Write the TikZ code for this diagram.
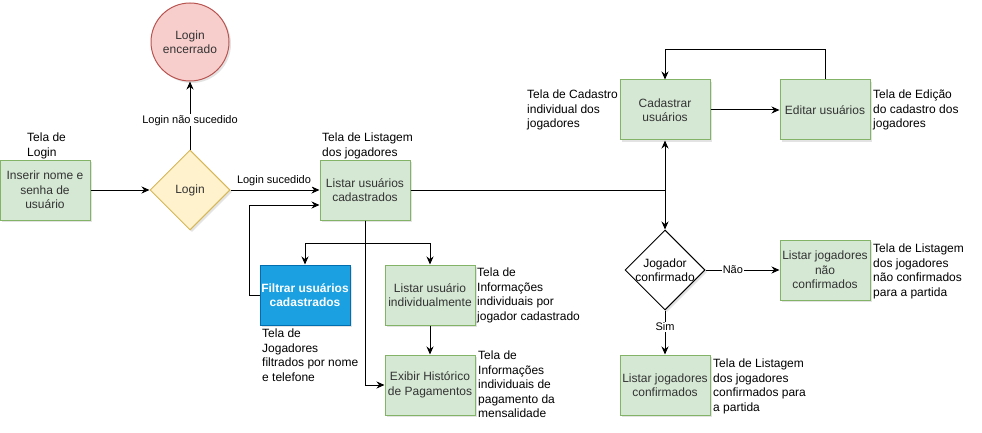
\documentclass[tikz,border=0pt]{standalone}
\usepackage{fontspec}
\setmainfont{Liberation Sans}
\usetikzlibrary{arrows.meta,shapes.geometric,shadows,calc}
\definecolor{gfill}{HTML}{D5E8D4}
\definecolor{gstroke}{HTML}{82B366}
\definecolor{yfill}{HTML}{FFF2CC}
\definecolor{ystroke}{HTML}{D6B656}
\definecolor{rfill}{HTML}{F8CECC}
\definecolor{rstroke}{HTML}{B85450}
\definecolor{bfill}{HTML}{1BA1E2}
\definecolor{bstroke}{HTML}{006EAF}
\definecolor{boxtext}{HTML}{333333}
\begin{document}
\begin{tikzpicture}[x=1pt,y=-1pt,
  shad/.style={drop shadow={opacity=0.22,shadow xshift=2pt,shadow yshift=-2pt}},
  box/.style={draw=gstroke, fill=gfill, text=boxtext, minimum width=90pt, minimum height=60pt, inner sep=0pt, align=center, font=\fontsize{12}{14.4}\selectfont, line width=1pt, shad},
  bluebox/.style={box, draw=bstroke, fill=bfill, text=white, font=\fontsize{12}{14.4}\selectfont\bfseries},
  dia/.style={diamond, aspect=1, minimum width=80pt, minimum height=80pt, inner sep=0pt, line width=1pt, shad},
  dtext/.style={align=center, inner sep=0pt, font=\fontsize{12}{14.4}\selectfont},
  note/.style={anchor=north west, inner sep=0pt, align=left, font=\fontsize{12}{14.4}\selectfont},
  elabel/.style={fill=white, inner sep=1pt, font=\fontsize{11}{13}\selectfont},
  arr/.style={-{Stealth[length=8pt,width=7pt]}, line width=1pt}]
\useasboundingbox (0,0) rectangle (982,433);

% nodes
\node[box] (inserir) at (45,190) {Inserir nome e\\senha de\\usuário};
\node[dia, draw=ystroke, fill=yfill, label={[dtext, text=boxtext]center:Login}] (login) at (190,190) {};
\node[circle, draw=rstroke, fill=rfill, text=boxtext, minimum size=78pt, inner sep=0pt, line width=1pt, align=center, font=\fontsize{12}{14.4}\selectfont, shad] (encerrado) at (190,42) {Login\\encerrado};
\node[box] (listar) at (365,190) {Listar usuários\\cadastrados};
\node[bluebox] (filtrar) at (305,295) {Filtrar usuários\\cadastrados};
\node[box] (individual) at (430,295) {Listar usuário\\individualmente};
\node[box] (historico) at (430,385) {Exibir Histórico\\de Pagamentos};
\node[box] (cadastrar) at (665,110) {Cadastrar\\usuários};
\node[box] (editar) at (825,110) {Editar usuários};
\node[dia, draw=black, fill=white, label={[dtext]center:Jogador\\confirmado}] (jogador) at (665,270) {};
\node[box] (naoconf) at (825,270) {Listar jogadores\\não\\confirmados};
\node[box] (conf) at (665,385) {Listar jogadores\\confirmados};

% notes
\node[note] (n1) at (27,133) {Tela de\\Login};
\node[note] (n2) at (322,133) {Tela de Listagem\\dos jogadores};
\node[note] (n3) at (262,329) {Tela de\\Jogadores\\filtrados por nome\\e telefone};
\node[note] (n4) at (477,268) {Tela de\\Informações\\individuais por\\jogador cadastrado};
\node[note] (n5) at (478,351) {Tela de\\Informações\\individuais de\\pagamento da\\mensalidade};
\node[note] (n6) at (527,90) {Tela de Cadastro\\individual dos\\jogadores};
\node[note] (n7) at (873,90) {Tela de Edição\\do cadastro dos\\jogadores};
\node[note] (n8) at (873,244) {Tela de Listagem\\dos jogadores\\não confirmados\\para a partida};
\node[note] (n9) at (713,359) {Tela de Listagem\\dos jogadores\\confirmados para\\a partida};

% connectors
\draw[arr] (inserir.east) -- (login.west);
\draw[arr] (login.north) -- node[elabel, pos=0.43] {Login não sucedido} (encerrado.south);
\draw[arr] (login.east) -- (listar.west);
\node[elabel, inner sep=0.5pt] (lsuc) at (274,181) {Login sucedido};
\draw[arr] (filtrar.west) -- ++(-10,0) |- ($(listar.west)+(0,15)$);
\draw[arr] (listar.south) -- ++(0,23) -| (filtrar.north);
\draw[arr] (listar.south) -- ++(0,23) -| (individual.north);
\draw[arr] (listar.south) |- (historico.west);
\draw[arr] (individual.south) -- (historico.north);
\draw[arr] (listar.east) -| (cadastrar.south);
\draw[arr] (listar.east) -| (jogador.north);
\draw[arr] (cadastrar.east) -- (editar.west);
\draw[arr] (editar.north) -- ++(0,-30) -| (cadastrar.north);
\draw[arr] (jogador.east) -- node[elabel, pos=0.37] {Não} (naoconf.west);
\draw[arr] (jogador.south) -- node[elabel, pos=0.37] {Sim} (conf.north);
\end{tikzpicture}
\end{document}
